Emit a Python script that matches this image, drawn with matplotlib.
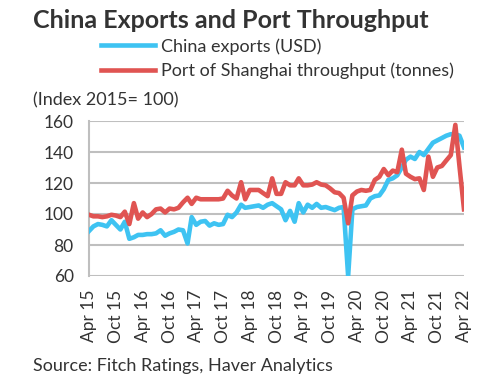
import numpy as np
import pandas as pd
import matplotlib
matplotlib.use("Agg")
import matplotlib.pyplot as plt

plt.rcParams['font.family'] = ['Lato', 'DejaVu Sans']

# monthly index values, Apr 2015 .. Apr 2022 (2015 = 100)
months = pd.date_range('2015-04-01', periods=85, freq='MS')

exports = [89, 92, 93.5, 93, 92, 96, 93, 90, 95, 84,
           85, 86.5, 86.5, 87, 87, 87.5, 89.5, 86, 87.5, 88.5,
           90, 89.5, 81, 98, 93, 95, 95.5, 92.5, 94, 93,
           93.5, 99.5, 98, 101, 106, 104, 104.5, 105, 105.5, 104,
           106, 107, 105, 103, 96, 102, 95, 107, 101, 106,
           104, 106.5, 104, 104.5, 103.5, 102.5, 104, 104.5, 60, 103,
           104.5, 105, 105.5, 110, 111.5, 112, 116, 122, 123, 125,
           130, 135, 137, 135.5, 140, 138, 142, 146, 147.5, 149,
           150.5, 151.5, 151.5, 150.5, 143]

port = [99.5, 98.5, 98.5, 98, 98.5, 99.5, 99, 98, 101.5, 93.5,
        107, 97, 101, 98, 100, 103, 103.5, 101, 103.5, 103,
        104, 107.5, 110.5, 106.5, 110.5, 109.5, 109.5, 109.5, 109.5, 109.5,
        110, 115, 112, 110, 120.5, 109.5, 115.5, 115.5, 115.5, 113.5,
        111.5, 123, 113, 113, 120.5, 118.5, 118.5, 123, 118.5, 118.5,
        119, 120.5, 119, 118.5, 116.5, 114, 113.5, 110.5, 94, 112,
        114.5, 115.5, 115, 115.5, 122, 124, 129, 125, 128, 127,
        141.5, 126, 124, 122.5, 123, 115.5, 137, 124, 130, 131,
        134.5, 138, 157.5, 131, 103]

tick_dates = months[::6]
tick_labels = [d.strftime('%b %y') for d in tick_dates]
yticks = [60, 80, 100, 120, 140, 160]

txt = '#333333'
fig = plt.figure(figsize=(4.95, 3.89), dpi=100)
ax = fig.add_axes([89/495, 1-276/389, (464-89)/495, (276-121)/389])

ax.plot(months, exports, color='#3ec3f2', lw=3.3, label='China exports (USD)', zorder=3)
ax.plot(months, port, color='#e05452', lw=3.3, label='Port of Shanghai throughput (tonnes)', zorder=3)

ax.set_xlim(months[0], months[-1])
ax.set_ylim(60, 160)
ax.set_yticks(yticks)
ax.set_xticks(tick_dates)
ax.set_xticklabels(tick_labels, rotation=90)
ax.tick_params(axis='both', length=0, labelsize=12.5, colors=txt)
ax.tick_params(axis='y', pad=11)
ax.tick_params(axis='x', pad=10)
ax.grid(axis='y', color='#bfbfbf', lw=1.5)
ax.set_axisbelow(True)
for s in ['top', 'right', 'bottom']:
    ax.spines[s].set_visible(False)
ax.spines['left'].set_color('#bfbfbf')
ax.spines['left'].set_linewidth(1.5)

fig.text(33/495, 1-28/389, 'China Exports and Port Throughput', fontsize=18,
         fontweight='bold', color=txt, va='baseline')
fig.legend(loc='upper left', bbox_to_anchor=(101/495, 1-38/389), frameon=False,
           fontsize=13, handlelength=3.0, handletextpad=0.35, labelspacing=0.45,
           borderpad=0, borderaxespad=0, labelcolor=txt)
fig.text(33/495, 1-105/389, '(Index 2015= 100)', fontsize=13, color=txt, va='baseline')
fig.text(33/495, 1-371/389, 'Source: Fitch Ratings, Haver Analytics', fontsize=13,
         color=txt, va='baseline')

fig.savefig('out.png', dpi=100)
